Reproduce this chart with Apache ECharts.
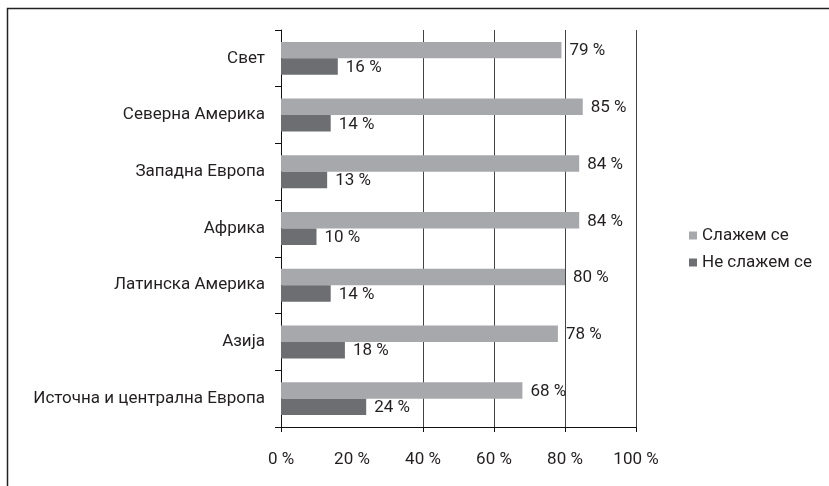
<!DOCTYPE html>
<html><head><meta charset="utf-8">
<script src="https://cdn.jsdelivr.net/npm/echarts@6/dist/echarts.min.js"></script>
<style>html,body{margin:0;padding:0;background:#fff}#c{width:829px;height:486px}</style>
</head><body><div id="c"></div>
<script>
const categories = ['Свет','Северна Америка','Западна Европа','Африка','Латинска Америка','Азија','Источна и централна Европа'];
const agree = [79,85,84,84,80,78,68];
const disagree = [16,14,13,10,14,18,24];
const seriesNames = ['Слажем се','Не слажем се'];
const xTicks = [0,20,40,60,80,100];

const FONT = 'Roboto';
const TXT = '#231f20';
const chart = echarts.init(document.getElementById('c'), null, {renderer:'canvas'});
const lbl = {show:true, position:'right', distance:8, offset:[0,1], formatter: p => p.value + ' %', color:TXT, fontFamily:FONT, fontSize:17};
chart.setOption({
  animation:false,
  textStyle:{fontFamily:FONT},
  graphic:[{type:'rect', shape:{x:7.5,y:8.5,width:900,height:600}, style:{fill:'none', stroke:'#222', lineWidth:1.5}, z:-10}],
  grid:{left:281, right:193, top:30, bottom:59, containLabel:false},
  legend:{orient:'vertical', left:684, top:222, itemWidth:8, itemHeight:8, itemGap:10, icon:'rect',
    textStyle:{color:TXT, fontFamily:FONT, fontSize:17}, data:seriesNames},
  xAxis:{type:'value', min:0, max:100, interval:20,
    axisLine:{show:true, lineStyle:{color:'#111', width:1}},
    axisTick:{show:true, length:5, customValues:[0,40,60,80,100], lineStyle:{color:'#111'}},
    axisLabel:{formatter: v => v + ' %', color:TXT, fontFamily:FONT, fontSize:17, margin:24},
    splitLine:{show:true, lineStyle:{color:['transparent','#444','#444','#444','#444'], width:1}}
  },
  yAxis:{type:'category', data:categories, inverse:true,
    axisLine:{show:true, lineStyle:{color:'#111'}},
    axisTick:{show:true, length:6, lineStyle:{color:'#111'}},
    axisLabel:{color:TXT, fontFamily:FONT, fontSize:17, margin:16}
  },
  series:[
    {name:seriesNames[0], type:'bar', data:agree, barGap:'0%', barCategoryGap:'42%', itemStyle:{color:'#a7a8ab'}, label:lbl},
    {name:seriesNames[1], type:'bar', data:disagree, barGap:'0%', barCategoryGap:'42%', itemStyle:{color:'#6d6e71'}, label:lbl}
  ]
});
</script></body></html>
